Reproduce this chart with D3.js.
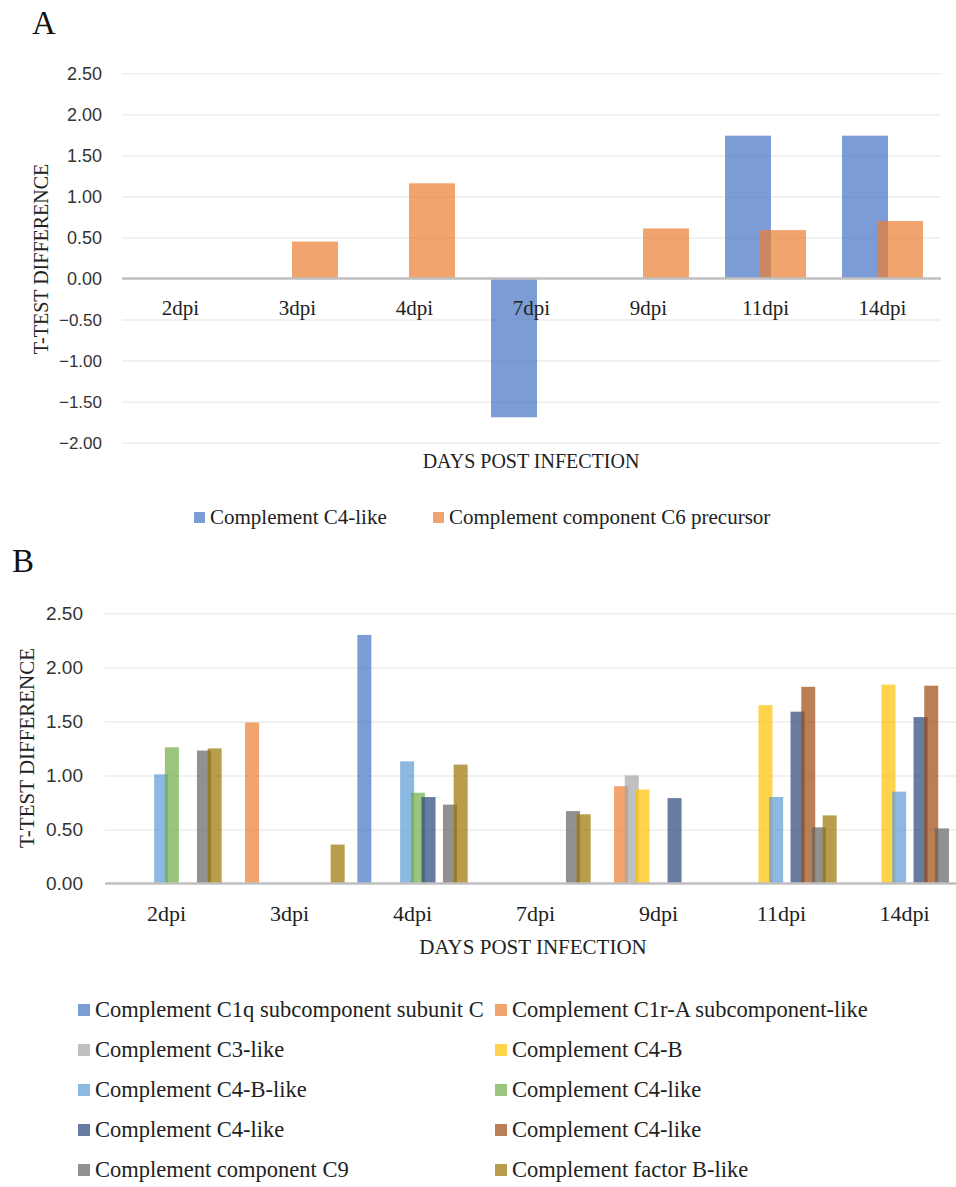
<html>
<head>
  <meta charset="utf-8">
  <title>Complement t-test differences</title>
  <script src="https://cdn.jsdelivr.net/npm/d3@7"></script>
  <style>
    body { margin: 0; background: #fff; }
  </style>
</head>
<body>
<script>

// categories and tick values
var cats = ["2dpi", "3dpi", "4dpi", "7dpi", "9dpi", "11dpi", "14dpi"];
var ticksA = [-2, -1.5, -1, -0.5, 0, 0.5, 1, 1.5, 2, 2.5];
var ticksB = [0, 0.5, 1, 1.5, 2, 2.5];

// panel A series
var namesA = ["Complement C4-like", "Complement component C6 precursor"];
var a_c4like = [null, null, null, -1.69, null, 1.74, 1.74];
var a_c6     = [null, 0.45, 1.16, null, 0.61, 0.59, 0.70];
var colorsA = ["#4472C4", "#ED7D31"];

// panel B series
var namesB = ["Complement C1q subcomponent subunit C", "Complement C1r-A subcomponent-like",
              "Complement C3-like", "Complement C4-B",
              "Complement C4-B-like", "Complement C4-like",
              "Complement C4-like", "Complement C4-like",
              "Complement component C9", "Complement factor B-like"];
var b_c1q     = [null, null, 2.30, null, null, null, null];
var b_c1r     = [null, 1.49, null, null, 0.90, null, null];
var b_c3      = [null, null, null, null, 1.00, null, null];
var b_c4b     = [null, null, null, null, 0.87, 1.65, 1.84];
var b_c4blike = [1.01, null, 1.13, null, null, 0.80, 0.85];
var b_c4like1 = [1.26, null, 0.84, null, null, null, null];
var b_c4like2 = [null, null, 0.80, null, 0.79, 1.59, 1.54];
var b_c4like3 = [null, null, null, null, null, 1.82, 1.83];
var b_c9      = [1.23, null, 0.73, 0.67, null, 0.52, 0.51];
var b_factorb = [1.25, 0.36, 1.10, 0.64, null, 0.63, null];
var colorsB = ["#4472C4", "#ED7D31", "#A5A5A5", "#FFC000", "#5B9BD5",
               "#70AD47", "#264478", "#9E480E", "#636363", "#997300"];

var serif = "'Liberation Serif', 'DejaVu Serif', serif",
    sans = "'Liberation Sans', Arial, sans-serif";

var svg = d3.select("body").append("svg")
    .attr("width", 956)
    .attr("height", 1187);

svg.append("rect").attr("width", 956).attr("height", 1187).attr("fill", "#fff");

function drawPanel(p) {
  var x = d3.scaleBand().domain(cats).range([p.left, p.right]);
  var y = d3.scaleLinear().domain(p.domain).range(p.yrange);
  var bw = x.bandwidth();
  var groupW = (p.series.length - 1) * p.step + p.barW;
  var off = (bw - groupW) / 2;

  var g = svg.append("g");

  // gridlines
  g.append("g")
    .attr("transform", "translate(" + p.left + ",0)")
    .call(d3.axisLeft(y).tickValues(p.ticks.filter(function(t) { return t != 0; }))
          .tickSize(-(p.gridRight - p.left)).tickFormat(""))
    .call(function(s) { s.select(".domain").remove(); })
    .selectAll("line")
    .attr("stroke", "#ededed")
    .attr("stroke-width", 1.5);

  // tick labels
  var yl = g.append("g")
    .attr("transform", "translate(" + p.tickRight + ",0)")
    .call(d3.axisLeft(y).tickValues(p.ticks).tickSize(0).tickPadding(0).tickFormat(d3.format(".2f")));
  yl.select(".domain").remove();
  yl.selectAll("text")
    .attr("font-family", sans)
    .attr("font-size", function(d) { return d < 0 ? p.negTickSize : p.tickSize; })
    .attr("fill", "#333");

  // bars
  p.series.forEach(function(vals, j) {
    g.append("g").selectAll("rect")
      .data(vals.map(function(v, i) { return {cat: cats[i], v: v}; })
                .filter(function(d) { return d.v !== null; }))
      .enter().append("rect")
      .attr("x", function(d) { return x(d.cat) + off + j * p.step; })
      .attr("y", function(d) { return Math.min(y(d.v), y(0)); })
      .attr("width", p.barW)
      .attr("height", function(d) { return Math.abs(y(d.v) - y(0)); })
      .attr("fill", p.colors[j])
      .attr("fill-opacity", 0.7);
  });

  // zero line
  g.append("line")
    .attr("x1", p.left).attr("x2", p.gridRight)
    .attr("y1", y(0)).attr("y2", y(0))
    .attr("stroke", "#bfbfbf")
    .attr("stroke-width", 2.5);

  // category labels
  var xa = g.append("g")
    .attr("transform", "translate(0," + y(0) + ")")
    .call(d3.axisBottom(x).tickSize(0).tickPadding(p.catPad));
  xa.select(".domain").remove();
  xa.selectAll("text")
    .attr("font-family", serif)
    .attr("font-size", p.catSize)
    .attr("fill", "#222");

  // axis titles
  g.append("text")
    .attr("x", p.xTitleX).attr("y", p.xTitleY)
    .attr("text-anchor", "middle")
    .attr("font-family", serif).attr("font-size", p.fontSize).attr("fill", "#222")
    .text("DAYS POST INFECTION");

  g.append("text")
    .attr("transform", "translate(" + p.yTitleX + "," + p.yTitleY + ") rotate(-90)")
    .attr("text-anchor", "middle")
    .attr("font-family", serif).attr("font-size", p.fontSize).attr("fill", "#222")
    .text("T-TEST DIFFERENCE");

  // panel letter
  g.append("text")
    .attr("x", p.letterX).attr("y", p.letterY)
    .attr("font-family", serif).attr("font-size", 33).attr("fill", "#111")
    .text(p.letter);

  // legend
  var leg = g.selectAll(".leg")
    .data(p.names)
    .enter().append("g")
    .attr("transform", function(d, i) { return "translate(" + p.legX[i] + "," + p.legY[i] + ")"; });
  leg.append("rect")
    .attr("x", 0).attr("y", -p.sq - 1)
    .attr("width", p.sq).attr("height", p.sq)
    .attr("fill", function(d, i) { return p.colors[i]; })
    .attr("fill-opacity", 0.7);
  leg.append("text")
    .attr("x", p.sq + 5)
    .attr("font-family", serif).attr("font-size", p.legSize).attr("fill", "#222")
    .text(function(d) { return d; });
}

drawPanel({
  letter: "A", letterX: 32, letterY: 34,
  left: 122, right: 941, gridRight: 941,
  domain: [-2, 2.5], yrange: [442.7, 73.3], ticks: ticksA,
  tickRight: 102, tickSize: 18, negTickSize: 17,
  series: [a_c4like, a_c6], colors: colorsA, names: namesA,
  barW: 46, step: 35, catPad: 22, fontSize: 20, catSize: 21, legSize: 21,
  xTitleX: 531, xTitleY: 468, yTitleX: 48, yTitleY: 259,
  sq: 11, legX: [194, 433], legY: [524, 524]
});

drawPanel({
  letter: "B", letterX: 12, letterY: 572,
  left: 105, right: 966, gridRight: 956,
  domain: [0, 2.5], yrange: [883.5, 613.3], ticks: ticksB,
  tickRight: 83, tickSize: 19, negTickSize: 19,
  series: [b_c1q, b_c1r, b_c3, b_c4b, b_c4blike, b_c4like1, b_c4like2, b_c4like3, b_c9, b_factorb],
  colors: colorsB, names: namesB,
  barW: 14, step: 10.7, catPad: 22, fontSize: 21, catSize: 22, legSize: 22.5,
  xTitleX: 533, xTitleY: 954, yTitleX: 34, yTitleY: 748,
  sq: 12, legX: [78, 495, 78, 495, 78, 495, 78, 495, 78, 495],
  legY: [1017, 1017, 1057, 1057, 1097, 1097, 1137, 1137, 1177, 1177]
});

</script>
</body>
</html>
